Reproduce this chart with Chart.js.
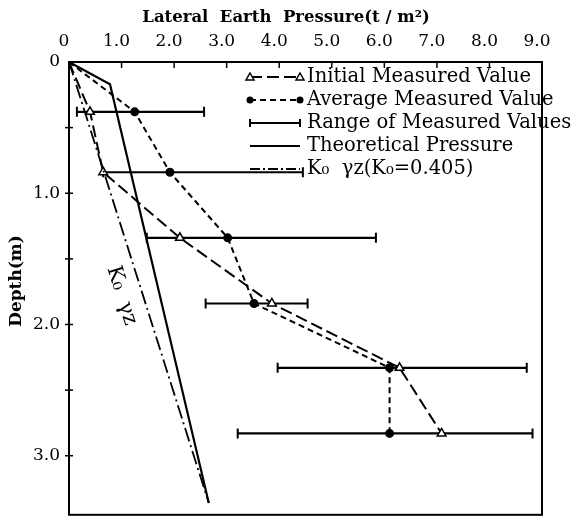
<!DOCTYPE html>
<html>
<head>
<meta charset="utf-8">
<script src="https://cdn.jsdelivr.net/npm/chart.js@4.4.0/dist/chart.umd.min.js"></script>
<style>
  html, body { margin: 0; padding: 0; background: #fff; }
</style>
</head>
<body>
<canvas id="pressure_chart" width="572" height="526"></canvas>
<script>
// depths (m) of the measuring points
const depths = [0.38, 0.84, 1.34, 1.84, 2.33, 2.83];
// lateral earth pressure (t/m2)
const initialValues = [0.40, 0.65, 2.11, 3.86, 6.29, 7.09];
const averageValues = [1.25, 1.92, 3.02, 3.52, 6.10, 6.10];
const rangeMin = [0.15, 0.65, 1.48, 2.60, 3.97, 3.21];
const rangeMax = [2.57, 4.45, 5.84, 4.54, 8.71, 8.82];
// theoretical pressure polyline
const theoryDepths = [0, 0.17, 3.36];
const theoryValues = [0, 0.78, 2.66];
// Ko * gamma * z line
const koDepths = [0, 3.36];
const koValues = [0, 2.66];

const xTicks = [0, 1, 2, 3, 4, 5, 6, 7, 8, 9];
const yTicks = [0, 1, 2, 3];

const serif = "'DejaVu Serif', 'Liberation Serif', serif";
Chart.defaults.font.family = serif;
Chart.defaults.color = '#000';

const pts = (xs, ys) => xs.map((x, i) => ({x: x, y: ys[i]}));

const initialSet = {
  label: 'Initial Measured Value',
  data: [{x: 0, y: 0}].concat(pts(initialValues, depths)),
  showLine: true,
  borderColor: '#000',
  borderWidth: 2,
  borderDash: [12, 5],
  pointStyle: 'triangle',
  pointRadius: [0, 5, 5, 5, 5, 5, 5],
  pointBackgroundColor: '#fff',
  pointBorderColor: '#000',
  pointBorderWidth: 1.5,
  order: 1
};
const averageSet = {
  label: 'Average Measured Value',
  data: [{x: 0, y: 0}].concat(pts(averageValues, depths)),
  showLine: true,
  borderColor: '#000',
  borderWidth: 2,
  borderDash: [6, 4],
  pointStyle: 'circle',
  pointRadius: [0, 3.5, 3.5, 3.5, 3.5, 3.5, 3.5],
  pointBackgroundColor: '#000',
  pointBorderColor: '#000',
  order: 0
};
const theorySet = {
  label: 'Theoretical Pressure',
  data: pts(theoryValues, theoryDepths),
  showLine: true,
  borderColor: '#000',
  borderWidth: 2.2,
  pointRadius: 0
};
const koSet = {
  label: 'Ko γz',
  data: pts(koValues, koDepths),
  showLine: true,
  borderColor: '#000',
  borderWidth: 1.8,
  borderDash: [14, 4, 2, 4],
  pointRadius: 0
};
const rangeSets = depths.map((d, i) => ({
  label: 'Range of Measured Values',
  data: [{x: rangeMin[i], y: d}, {x: rangeMax[i], y: d}],
  showLine: true,
  borderColor: '#000',
  borderWidth: 2.2,
  pointStyle: 'line',
  rotation: 90,
  pointRadius: 5,
  pointBorderWidth: 2,
  pointBorderColor: '#000',
  order: 2
}));

// frame, inner ticks, titles, legend and the Ko label
const decor = {
  id: 'decor',
  afterDraw(chart) {
    const ctx = chart.ctx;
    const a = chart.chartArea;
    const xs = chart.scales.x, ys = chart.scales.y;
    ctx.save();
    ctx.strokeStyle = '#000';
    ctx.lineWidth = 2;
    ctx.strokeRect(a.left, a.top, a.right - a.left, a.bottom - a.top);
    ctx.lineWidth = 1.5;
    xTicks.forEach(v => {
      const px = xs.getPixelForValue(v);
      ctx.beginPath(); ctx.moveTo(px, a.top); ctx.lineTo(px, a.top + 6); ctx.stroke();
    });
    for (let v = 0.5; v < ys.max; v += 0.5) {
      const py = ys.getPixelForValue(v);
      ctx.beginPath(); ctx.moveTo(a.left - 4, py); ctx.lineTo(a.left + 4, py); ctx.stroke();
    }

    ctx.fillStyle = '#000';
    ctx.font = 'bold 16.5px ' + serif;
    ctx.textAlign = 'center';
    ctx.textBaseline = 'middle';
    ctx.fillText('Lateral  Earth  Pressure(t / m\u00b2)', 286, 18);

    ctx.save();
    ctx.font = 'bold 17px ' + serif;
    ctx.translate(17, 281);
    ctx.rotate(-Math.PI / 2);
    ctx.fillText('Depth(m)', 0, 0);
    ctx.restore();

    ctx.save();
    ctx.font = '21px ' + serif;
    ctx.translate(xs.getPixelForValue(1.0), ys.getPixelForValue(1.78));
    ctx.rotate(72.5 * Math.PI / 180);
    ctx.fillText('K\u2080  \u03b3z', 0, 0);
    ctx.restore();

    // legend
    const rows = [77, 100, 123, 146, 169];
    const x1 = 250, x2 = 300;
    ctx.font = '19.5px ' + serif;
    ctx.textAlign = 'left';
    const labels = ['Initial Measured Value', 'Average Measured Value',
      'Range of Measured Values', 'Theoretical Pressure', 'K\u2080  \u03b3z(K\u2080=0.405)'];
    labels.forEach((t, i) => ctx.fillText(t, 307, rows[i]));

    ctx.lineWidth = 2;
    const seg = (y, dash) => {
      ctx.setLineDash(dash);
      ctx.beginPath(); ctx.moveTo(x1, y); ctx.lineTo(x2, y); ctx.stroke();
      ctx.setLineDash([]);
    };
    seg(rows[0], [12, 5]);
    [x1, x2].forEach(x => {
      ctx.beginPath();
      ctx.moveTo(x, rows[0] - 4); ctx.lineTo(x + 4, rows[0] + 3); ctx.lineTo(x - 4, rows[0] + 3);
      ctx.closePath(); ctx.fillStyle = '#fff'; ctx.fill(); ctx.lineWidth = 1.5; ctx.stroke();
    });
    ctx.lineWidth = 2; ctx.fillStyle = '#000';
    seg(rows[1], [6, 4]);
    [x1, x2].forEach(x => { ctx.beginPath(); ctx.arc(x, rows[1], 3.5, 0, Math.PI * 2); ctx.fill(); });
    seg(rows[2], []);
    [x1, x2].forEach(x => { ctx.beginPath(); ctx.moveTo(x, rows[2] - 4); ctx.lineTo(x, rows[2] + 4); ctx.stroke(); });
    seg(rows[3], []);
    seg(rows[4], [10, 3, 2, 3]);
    ctx.restore();
  }
};

new Chart(document.getElementById('pressure_chart'), {
  type: 'scatter',
  data: { datasets: [averageSet, initialSet, theorySet, koSet].concat(rangeSets) },
  options: {
    responsive: false,
    animation: false,
    layout: { padding: { left: 0, top: 0, right: 30, bottom: 6 } },
    plugins: { legend: { display: false }, tooltip: { enabled: false } },
    scales: {
      x: {
        type: 'linear',
        position: 'top',
        min: 0,
        max: 9,
        afterFit: s => { s.height = 62; },
        afterBuildTicks: s => { s.ticks = xTicks.map(v => ({value: v})); },
        grid: { display: false },
        border: { display: false },
        ticks: {
          padding: 2,
          labelOffset: -5,
          font: { size: 17 },
          callback: v => v === 0 ? '0' : v.toFixed(1)
        }
      },
      y: {
        type: 'linear',
        reverse: true,
        min: 0,
        max: 3.45,
        afterFit: s => { s.width = 69; },
        afterBuildTicks: s => { s.ticks = yTicks.map(v => ({value: v})); },
        grid: { display: false },
        border: { display: false },
        ticks: {
          padding: 1,
          font: { size: 17 },
          callback: v => v === 0 ? '0' : v.toFixed(1)
        }
      }
    }
  },
  plugins: [decor]
});
</script>
</body>
</html>
